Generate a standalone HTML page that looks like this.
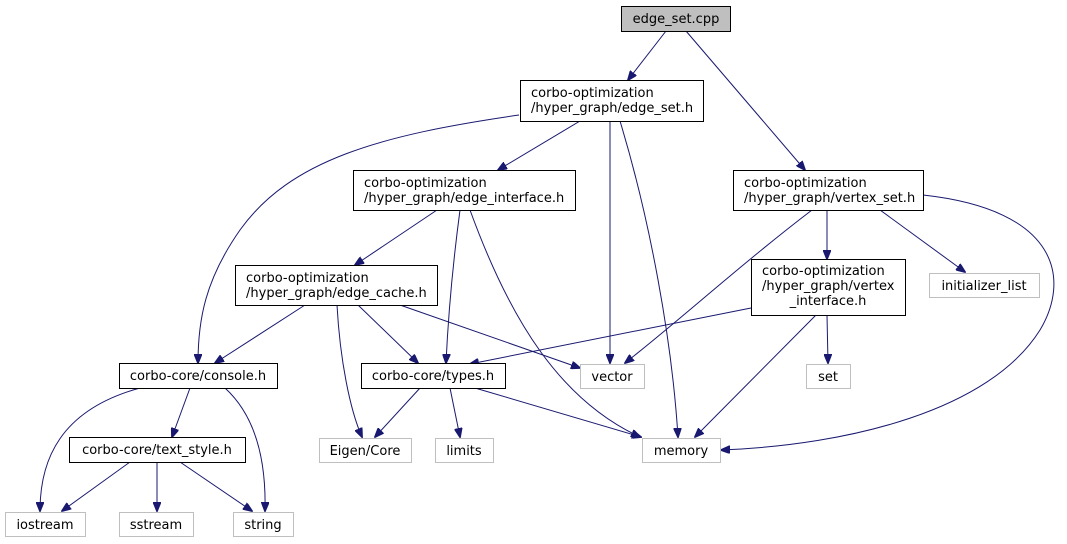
<!DOCTYPE html>
<html><head><meta charset="utf-8"><style>
html,body{margin:0;padding:0;background:#fff;width:1067px;height:544px;overflow:hidden}
text{font-family:"DejaVu Sans","Liberation Sans",sans-serif;font-size:13px;fill:#000}
.n{fill:#fff;stroke:#000;stroke-width:1}
.g{fill:#fff;stroke:#bfbfbf;stroke-width:1}
.e{fill:none;stroke:#191970;stroke-width:1}
</style></head><body>
<svg width="1067" height="544" xmlns="http://www.w3.org/2000/svg">
<defs><marker id="a" markerWidth="10" markerHeight="8" refX="9" refY="4" orient="auto" markerUnits="userSpaceOnUse"><path d="M0,0 L10,4 L0,8 z" fill="#191970" stroke="#191970"/></marker></defs>
<g class="e">
<path d="M666,31 L628,80" marker-end="url(#a)"/>
<path d="M686,31 L805,170" marker-end="url(#a)"/>
<path d="M519,115 C380,135 290,160 240,230 C205,280 198,320 198,363" marker-end="url(#a)"/>
<path d="M580,121 L498,170" marker-end="url(#a)"/>
<path d="M610,121 L610,363" marker-end="url(#a)"/>
<path d="M620,121 C650,220 672,340 678,437" marker-end="url(#a)"/>
<path d="M437,210 L355,265" marker-end="url(#a)"/>
<path d="M460,210 C452,270 448,320 446,363" marker-end="url(#a)"/>
<path d="M470,210 C510,320 560,400 640,437" marker-end="url(#a)"/>
<path d="M827,210 L827,259" marker-end="url(#a)"/>
<path d="M880,210 L965,272" marker-end="url(#a)"/>
<path d="M812,210 C740,265 680,320 625,363" marker-end="url(#a)"/>
<path d="M923,195 C1060,210 1070,280 1040,330 C990,410 850,445 721,450" marker-end="url(#a)"/>
<path d="M305,305 L215,363" marker-end="url(#a)"/>
<path d="M358,305 L418,363" marker-end="url(#a)"/>
<path d="M337,305 C340,360 350,410 362,437" marker-end="url(#a)"/>
<path d="M400,305 L580,368" marker-end="url(#a)"/>
<path d="M751,308 L470,364" marker-end="url(#a)"/>
<path d="M816,315 L695,437" marker-end="url(#a)"/>
<path d="M827,315 L828,363" marker-end="url(#a)"/>
<path d="M420,388 L375,437" marker-end="url(#a)"/>
<path d="M450,388 L460,437" marker-end="url(#a)"/>
<path d="M475,388 L641,437" marker-end="url(#a)"/>
<path d="M190,388 L172,437" marker-end="url(#a)"/>
<path d="M140,388 C60,410 40,460 40,511" marker-end="url(#a)"/>
<path d="M225,388 C260,420 266,470 265,511" marker-end="url(#a)"/>
<path d="M130,462 L62,511" marker-end="url(#a)"/>
<path d="M157,462 L157,511" marker-end="url(#a)"/>
<path d="M180,462 L252,511" marker-end="url(#a)"/>
</g>
<rect x="621.5" y="6.5" width="109" height="25" fill="#bfbfbf" stroke="#000"/>
<text x="676" y="23" text-anchor="middle">edge_set.cpp</text>
<rect class="n" x="520.5" y="80.5" width="183" height="41"/>
<text x="531" y="97">corbo-optimization</text><text x="531" y="112">/hyper_graph/edge_set.h</text>
<rect class="n" x="353.5" y="170.5" width="222" height="40"/>
<text x="364" y="187">corbo-optimization</text><text x="364" y="202">/hyper_graph/edge_interface.h</text>
<rect class="n" x="733.5" y="170.5" width="190" height="40"/>
<text x="744" y="187">corbo-optimization</text><text x="744" y="202">/hyper_graph/vertex_set.h</text>
<rect class="n" x="235.5" y="265.5" width="202" height="40"/>
<text x="246" y="282">corbo-optimization</text><text x="246" y="297">/hyper_graph/edge_cache.h</text>
<rect class="n" x="751.5" y="259.5" width="154" height="56"/>
<text x="762" y="275">corbo-optimization</text><text x="762" y="290">/hyper_graph/vertex</text><text x="828" y="305" text-anchor="middle">_interface.h</text>
<rect class="g" x="929.5" y="273.5" width="110" height="24"/>
<text x="984" y="290" text-anchor="middle">initializer_list</text>
<rect class="n" x="119.5" y="363.5" width="158" height="25"/>
<text x="198" y="380" text-anchor="middle">corbo-core/console.h</text>
<rect class="n" x="361.5" y="363.5" width="144" height="25"/>
<text x="433" y="380" text-anchor="middle">corbo-core/types.h</text>
<rect class="g" x="580.5" y="364.5" width="64" height="24"/>
<text x="612" y="381" text-anchor="middle">vector</text>
<rect class="g" x="806.5" y="364.5" width="44" height="24"/>
<text x="828" y="381" text-anchor="middle">set</text>
<rect class="n" x="69.5" y="437.5" width="176" height="25"/>
<text x="157" y="454" text-anchor="middle">corbo-core/text_style.h</text>
<rect class="g" x="319.5" y="438.5" width="92" height="24"/>
<text x="365" y="455" text-anchor="middle">Eigen/Core</text>
<rect class="g" x="435.5" y="438.5" width="58" height="24"/>
<text x="464" y="455" text-anchor="middle">limits</text>
<rect class="g" x="642.5" y="438.5" width="78" height="24"/>
<text x="681" y="455" text-anchor="middle">memory</text>
<rect class="g" x="5.5" y="512.5" width="80" height="24"/>
<text x="45" y="529" text-anchor="middle">iostream</text>
<rect class="g" x="119.5" y="512.5" width="74" height="24"/>
<text x="156" y="529" text-anchor="middle">sstream</text>
<rect class="g" x="233.5" y="512.5" width="60" height="24"/>
<text x="263" y="529" text-anchor="middle">string</text>
</svg>
</body></html>
